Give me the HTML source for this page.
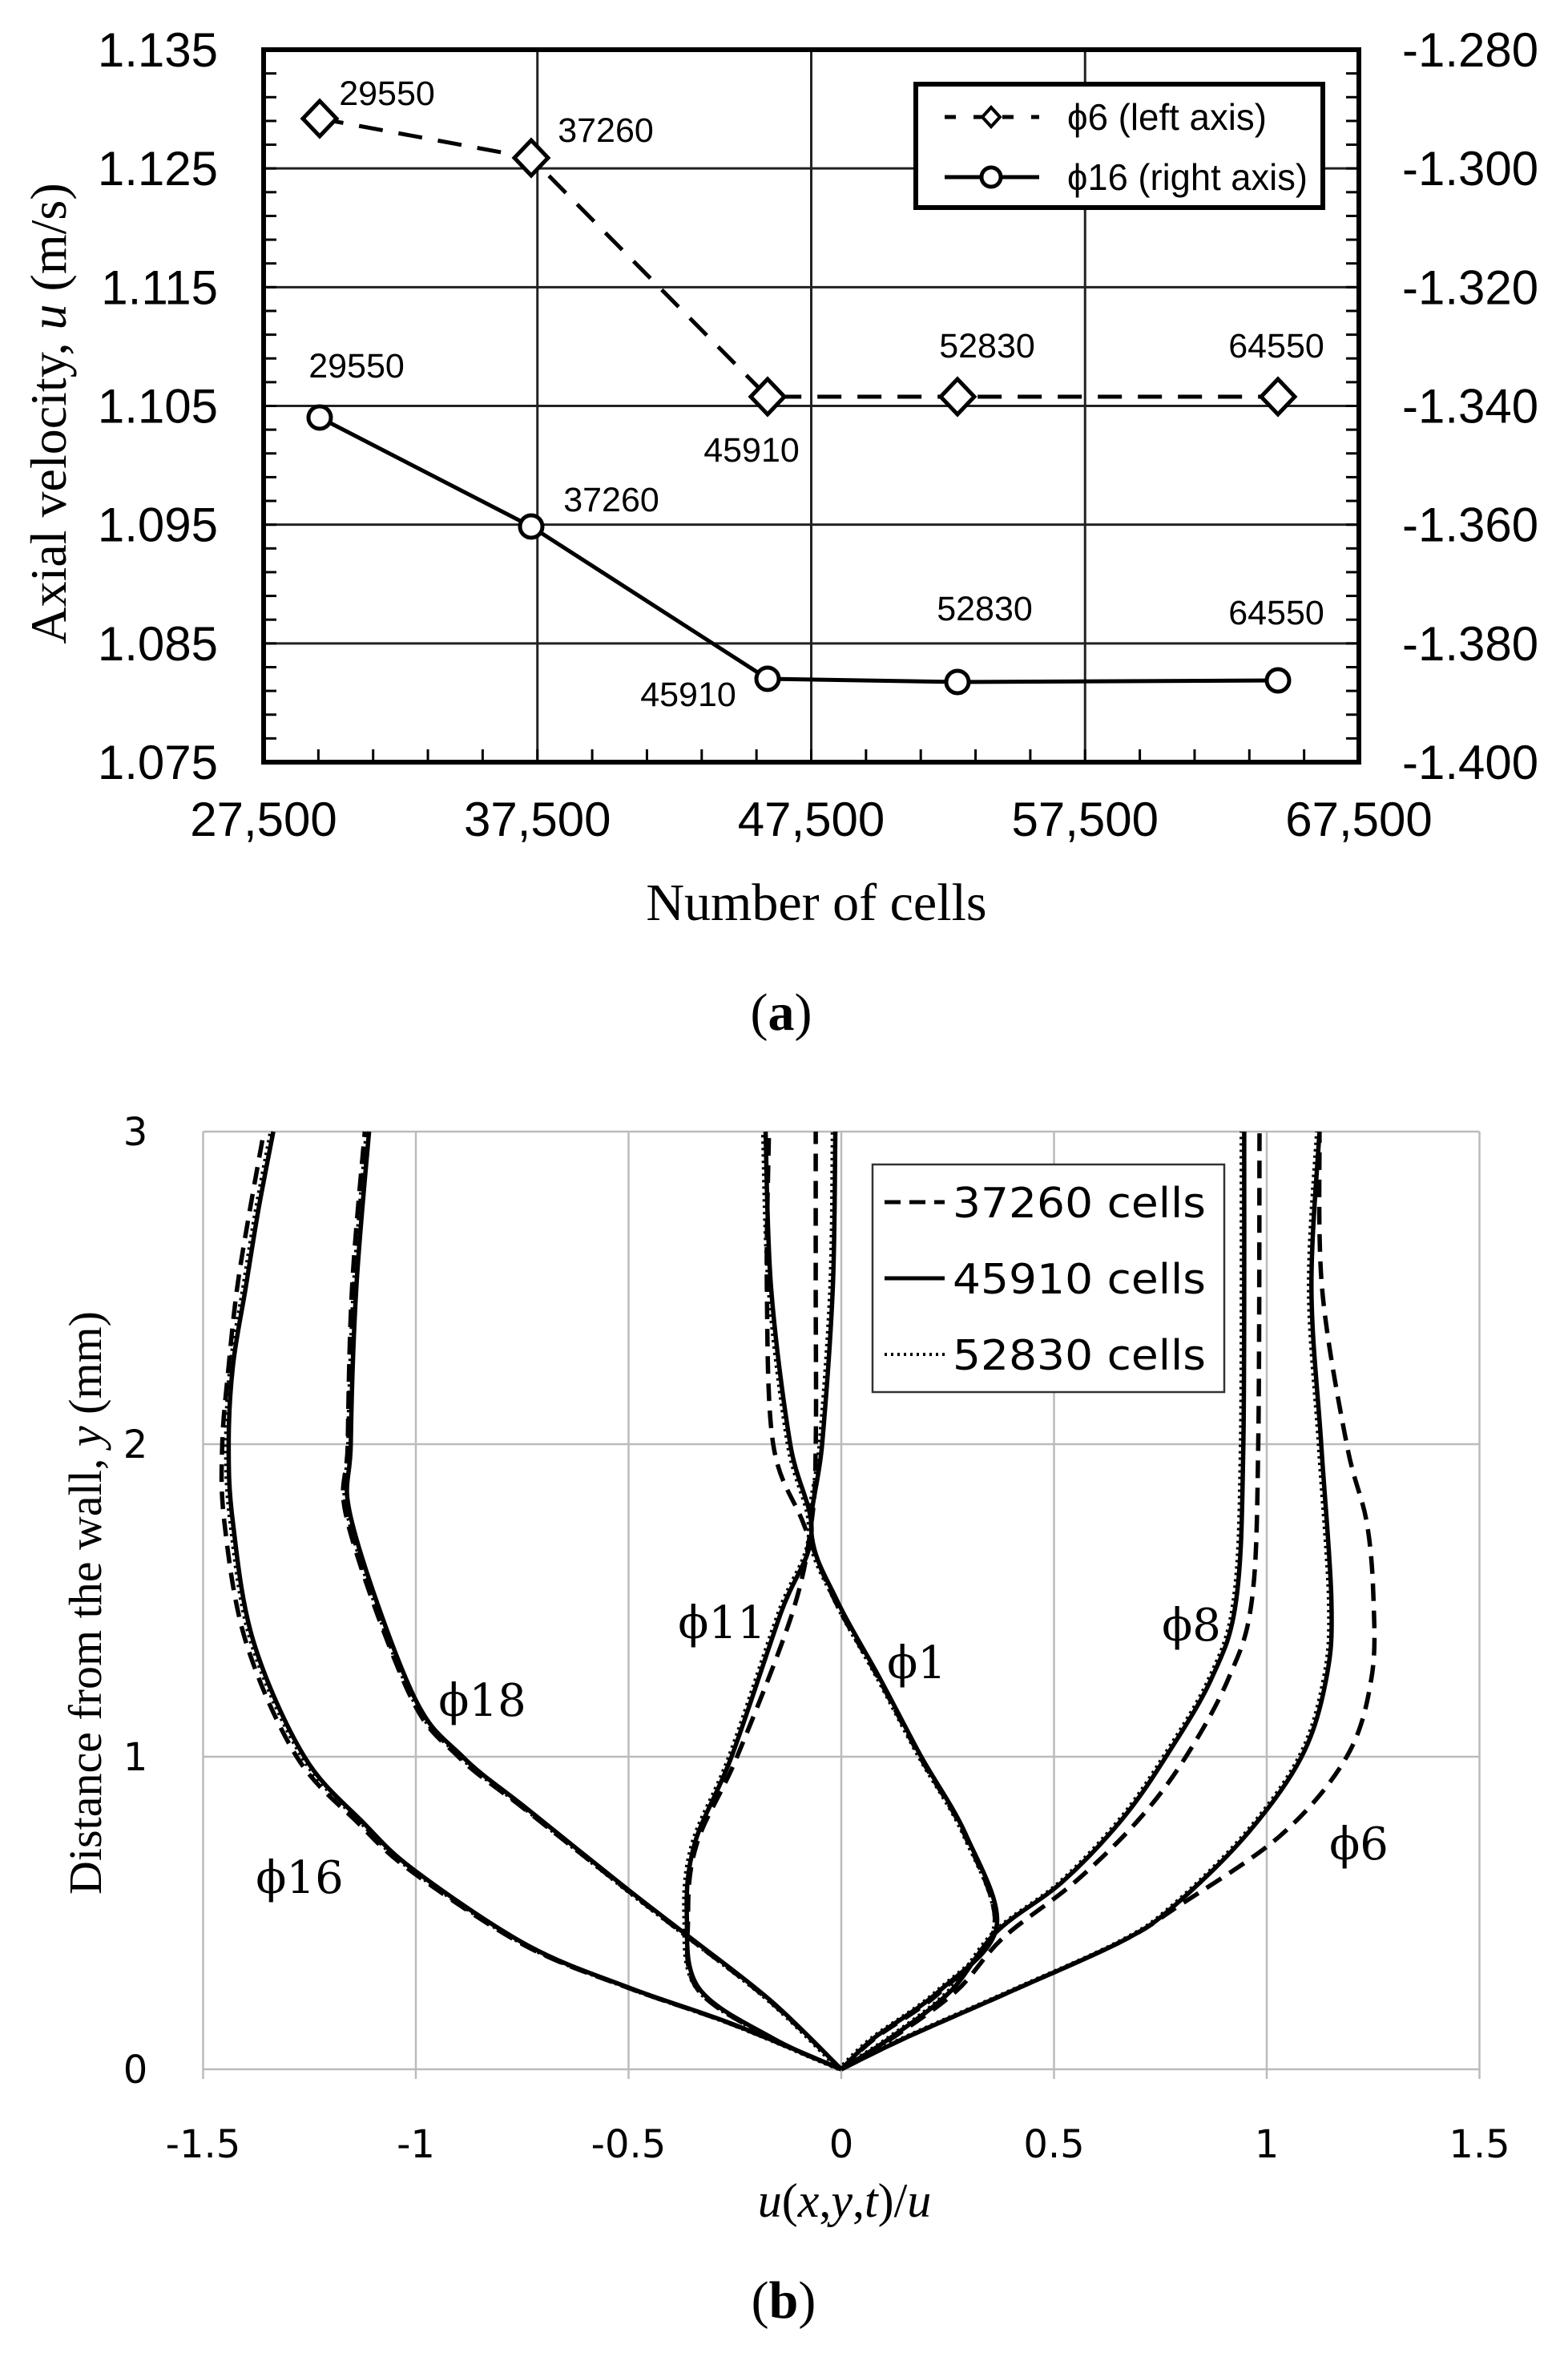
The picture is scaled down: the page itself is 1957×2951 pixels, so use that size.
<!DOCTYPE html>
<html><head><meta charset="utf-8"><style>
html,body{margin:0;padding:0;background:#fff}
svg{display:block}
</style></head><body>
<svg id="s" width="1957" height="2951" viewBox="0 0 1957 2951" xmlns="http://www.w3.org/2000/svg">
<rect width="1957" height="2951" fill="#fff"/>
<g id="top"></g>
<g id="bot"></g>
</svg>
<script>
const NS="http://www.w3.org/2000/svg";
function el(p,tag,a,txt){const e=document.createElementNS(NS,tag);for(const k in a)e.setAttribute(k,a[k]);if(txt!==undefined)e.textContent=txt;p.appendChild(e);return e;}
const T=document.getElementById('top'),B=document.getElementById('bot');
// ---------- TOP CHART ----------
const L=329,R=1696,TP=62,BT=951;
for(let i=1;i<4;i++){const x=L+i*(R-L)/4;el(T,'line',{x1:x,y1:TP,x2:x,y2:BT,stroke:'#222','stroke-width':3});}
for(let i=1;i<6;i++){const y=TP+i*(BT-TP)/6;el(T,'line',{x1:L,y1:y,x2:R,y2:y,stroke:'#222','stroke-width':3});}
for(let i=1;i<30;i++){const y=TP+i*(BT-TP)/30;el(T,'line',{x1:L,y1:y,x2:L+16,y2:y,stroke:'#000','stroke-width':3});el(T,'line',{x1:R,y1:y,x2:R-16,y2:y,stroke:'#000','stroke-width':3});}
for(let i=1;i<20;i++){const x=L+i*(R-L)/20;el(T,'line',{x1:x,y1:BT,x2:x,y2:BT-16,stroke:'#000','stroke-width':3});}
el(T,'rect',{x:L,y:TP,width:R-L,height:BT-TP,fill:'none',stroke:'#000','stroke-width':6});
const lt=['1.135','1.125','1.115','1.105','1.095','1.085','1.075'],rt=['-1.280','-1.300','-1.320','-1.340','-1.360','-1.380','-1.400'];
for(let i=0;i<7;i++){const y=TP+i*(BT-TP)/6+21;
 el(T,'text',{x:272,y:y,'text-anchor':'end','font-family':'Liberation Sans, sans-serif','font-size':60},lt[i]);
 el(T,'text',{x:1750,y:y,'font-family':'Liberation Sans, sans-serif','font-size':60},rt[i]);}
['27,500','37,500','47,500','57,500','67,500'].forEach((t,i)=>el(T,'text',{x:L+i*(R-L)/4,y:1043,'text-anchor':'middle','font-family':'Liberation Sans, sans-serif','font-size':60},t));
el(T,'text',{x:1019,y:1148,'text-anchor':'middle','font-family':'Liberation Serif, serif','font-size':66},'Number of cells');
const ca=el(T,'text',{x:975,y:1285,'text-anchor':'middle','font-family':'Liberation Serif, serif','font-size':66});
ca.innerHTML='(<tspan font-weight="bold">a</tspan>)';
const yl=el(T,'text',{transform:'translate(82,516) rotate(-90)','text-anchor':'middle','font-family':'Liberation Serif, serif','font-size':64});
yl.innerHTML='Axial velocity, <tspan font-style="italic">u</tspan> (m/s)';
const p6=[[399,148],[663,197],[958,495],[1195,495],[1595,495]];
const p16=[[399,521],[663,657],[958,847],[1195,851],[1595,849]];
el(T,'polyline',{points:p6.map(p=>p.join(',')).join(' '),fill:'none',stroke:'#000','stroke-width':5,'stroke-dasharray':'30 20'});
el(T,'polyline',{points:p16.map(p=>p.join(',')).join(' '),fill:'none',stroke:'#000','stroke-width':5});
p6.forEach(([x,y])=>el(T,'path',{d:`M${x-21},${y}L${x},${y-22}L${x+21},${y}L${x},${y+22}Z`,fill:'#fff',stroke:'#000','stroke-width':5}));
p16.forEach(([x,y])=>el(T,'circle',{cx:x,cy:y,r:14,fill:'#fff',stroke:'#000','stroke-width':5}));
const labs=[['29550',483,116],['37260',756,162],['45910',938,561],['52830',1232,431],['64550',1593,431],['29550',445,456],['37260',763,623],['45910',859,866],['52830',1229,759],['64550',1593,764]];
labs.forEach(([t,x,y])=>el(T,'text',{x:x,y:y+15,'text-anchor':'middle','font-family':'Liberation Sans, sans-serif','font-size':43},t));
el(T,'rect',{x:1143,y:105,width:508,height:154,fill:'#fff',stroke:'#000','stroke-width':6});
el(T,'line',{x1:1179,y1:146,x2:1297,y2:146,stroke:'#000','stroke-width':5,'stroke-dasharray':'14 22'});
el(T,'path',{d:'M1226,146L1237,134L1248,146L1237,158Z',fill:'#fff',stroke:'#000','stroke-width':4});
el(T,'line',{x1:1179,y1:221,x2:1297,y2:221,stroke:'#000','stroke-width':5});
el(T,'circle',{cx:1237,cy:221,r:12,fill:'#fff',stroke:'#000','stroke-width':5});
el(T,'text',{x:1332,y:162,'font-family':'Liberation Sans, sans-serif','font-size':46,textLength:249,lengthAdjust:'spacingAndGlyphs'},'ϕ6 (left axis)');
el(T,'text',{x:1332,y:237,'font-family':'Liberation Sans, sans-serif','font-size':46,textLength:300,lengthAdjust:'spacingAndGlyphs'},'ϕ16 (right axis)');
// ---------- BOTTOM CHART ----------
const X=u=>1050+531*u, Y=y=>2582-390*y;
const bl=X(-1.5),br=X(1.5),bt=Y(3),bb=Y(0);
for(let i=0;i<=6;i++){const x=X(-1.5+0.5*i);el(B,'line',{x1:x,y1:bt,x2:x,y2:bb+12,stroke:'#bbb','stroke-width':2.5});}
for(let i=0;i<=3;i++){const y=Y(i);el(B,'line',{x1:bl,y1:y,x2:br,y2:y,stroke:'#bbb','stroke-width':2.5});}
['-1.5','-1','-0.5','0','0.5','1','1.5'].forEach((t,i)=>el(B,'text',{x:X(-1.5+0.5*i),y:2692,'text-anchor':'middle','font-family':'DejaVu Sans, sans-serif','font-size':48},t));
['0','1','2','3'].forEach((t,i)=>el(B,'text',{x:169,y:Y(i)+17,'text-anchor':'middle','font-family':'DejaVu Sans, sans-serif','font-size':48},t));
const xl=el(B,'text',{x:1054,y:2766,'text-anchor':'middle','font-family':'Liberation Serif, serif','font-size':60,'font-style':'italic'});
xl.innerHTML='u<tspan font-style="normal">(</tspan>x<tspan font-style="normal">,</tspan>y<tspan font-style="normal">,</tspan>t<tspan font-style="normal">)/</tspan>u';
const cb=el(B,'text',{x:978,y:2892,'text-anchor':'middle','font-family':'Liberation Serif, serif','font-size':66});
cb.innerHTML='(<tspan font-weight="bold">b</tspan>)';
const yl2=el(B,'text',{transform:'translate(126,2000) rotate(-90)','text-anchor':'middle','font-family':'Liberation Serif, serif','font-size':58});
yl2.innerHTML='Distance from the wall, <tspan font-style="italic">y</tspan> (mm)';
function path(pts){const P=pts.map(([u,y])=>[X(u),Y(y)]);let d=`M${P[0][0].toFixed(1)},${P[0][1].toFixed(1)}`;
 for(let i=0;i<P.length-1;i++){const p0=P[i-1]||P[i],p1=P[i],p2=P[i+1],p3=P[i+2]||P[i+1];
  const c1=[p1[0]+(p2[0]-p0[0])/6,p1[1]+(p2[1]-p0[1])/6],c2=[p2[0]-(p3[0]-p1[0])/6,p2[1]-(p3[1]-p1[1])/6];
  d+=`C${c1[0].toFixed(1)},${c1[1].toFixed(1)} ${c2[0].toFixed(1)},${c2[1].toFixed(1)} ${p2[0].toFixed(1)},${p2[1].toFixed(1)}`;}
 return d;}
function curve(pts,style){const a={d:path(pts),fill:'none',stroke:'#000','stroke-width':5.5};
 if(style==='dash')a['stroke-dasharray']='22 12';if(style==='dot'){a['stroke-dasharray']='3 5';a['stroke-width']=4;}
 el(B,'path',a);}
const S={
 f16:[[0,0],[-0.258,0.146],[-0.497,0.26],[-0.738,0.397],[-1.0,0.633],[-1.122,0.787],[-1.262,1],[-1.382,1.37],[-1.43,1.749],[-1.44,2],[-1.43,2.25],[-1.40,2.5],[-1.37,2.75],[-1.335,3]],
 f18:[[0,0],[-0.162,0.215],[-0.354,0.42],[-0.497,0.57],[-0.738,0.833],[-0.89,1],[-1.007,1.2],[-1.15,1.749],[-1.153,2],[-1.14,2.5],[-1.11,3]],
 f11:[[0,0],[-0.162,0.1],[-0.335,0.26],[-0.363,0.49],[-0.345,0.72],[-0.258,1],[-0.142,1.46],[-0.07,1.715],[-0.12,2],[-0.165,2.5],[-0.178,3]],
 f1:[[0,0],[0.077,0.1],[0.23,0.25],[0.365,0.455],[0.293,0.75],[0.188,1],[0.091,1.25],[-0.01,1.5],[-0.07,1.715],[-0.045,2],[-0.02,2.5],[-0.014,3]],
 f8:[[0,0],[0.115,0.1],[0.257,0.25],[0.365,0.44],[0.52,0.6],[0.66,0.8],[0.763,1],[0.87,1.25],[0.928,1.5],[0.945,2],[0.947,3]],
 f6:[[0,0],[0.15,0.1],[0.40,0.25],[0.66,0.41],[0.78,0.52],[0.952,0.75],[1.082,1],[1.14,1.25],[1.152,1.5],[1.128,2],[1.105,2.5],[1.124,3]]
};
const D={
 f16:[[0,0],[-0.26,0.146],[-0.50,0.26],[-0.745,0.397],[-1.01,0.633],[-1.135,0.787],[-1.28,1],[-1.40,1.37],[-1.45,1.749],[-1.455,2],[-1.44,2.25],[-1.42,2.5],[-1.39,2.75],[-1.357,3]],
 f18:[[0,0],[-0.165,0.215],[-0.358,0.42],[-0.5,0.57],[-0.745,0.833],[-0.9,1],[-1.015,1.2],[-1.16,1.749],[-1.16,2],[-1.15,2.5],[-1.12,3]],
 f11:[[0,0],[-0.165,0.1],[-0.34,0.26],[-0.36,0.49],[-0.34,0.72],[-0.245,1],[-0.115,1.46],[-0.07,1.75],[-0.06,2],[-0.06,2.5],[-0.06,3]],
 f1:[[0,0],[0.08,0.1],[0.235,0.25],[0.36,0.455],[0.29,0.75],[0.185,1],[0.088,1.25],[-0.015,1.5],[-0.09,1.75],[-0.16,2],[-0.175,2.5],[-0.17,3]],
 f8:[[0,0],[0.12,0.1],[0.27,0.25],[0.38,0.42],[0.55,0.6],[0.70,0.8],[0.81,1],[0.91,1.25],[0.965,1.5],[0.98,2],[0.983,3]],
 f6:[[0,0],[0.15,0.1],[0.40,0.25],[0.66,0.41],[0.79,0.52],[1.034,0.75],[1.188,1],[1.246,1.25],[1.251,1.5],[1.235,1.75],[1.188,2],[1.13,2.5],[1.124,3]]
};
for(const k in S){curve(D[k],'dash');curve(S[k],'solid');curve(S[k].map(([u,y])=>[u-0.007,y]),'dot');}
el(B,'rect',{x:1089,y:1453,width:439,height:284,fill:'#fff',stroke:'#333','stroke-width':2.5});
el(B,'line',{x1:1104,y1:1500,x2:1179,y2:1500,stroke:'#000','stroke-width':5,'stroke-dasharray':'20 11'});
el(B,'line',{x1:1104,y1:1595,x2:1179,y2:1595,stroke:'#000','stroke-width':5});
el(B,'line',{x1:1104,y1:1690,x2:1179,y2:1690,stroke:'#000','stroke-width':4,'stroke-dasharray':'3 5'});
[['37260 cells',1500],['45910 cells',1595],['52830 cells',1690]].forEach(([t,y])=>el(B,'text',{x:1189,y:y+19,'font-family':'DejaVu Sans, sans-serif','font-size':52,textLength:316,lengthAdjust:'spacingAndGlyphs'},t));
[['ϕ16',374,2342],['ϕ18',602,2121],['ϕ11',901,2024],['ϕ1',1144,2074],['ϕ8',1487,2027],['ϕ6',1696,2300]].forEach(([t,x,y])=>el(B,'text',{x:x,y:y+20,'text-anchor':'middle','font-family':'DejaVu Serif, serif','font-size':56},t));
</script>
</body></html>
